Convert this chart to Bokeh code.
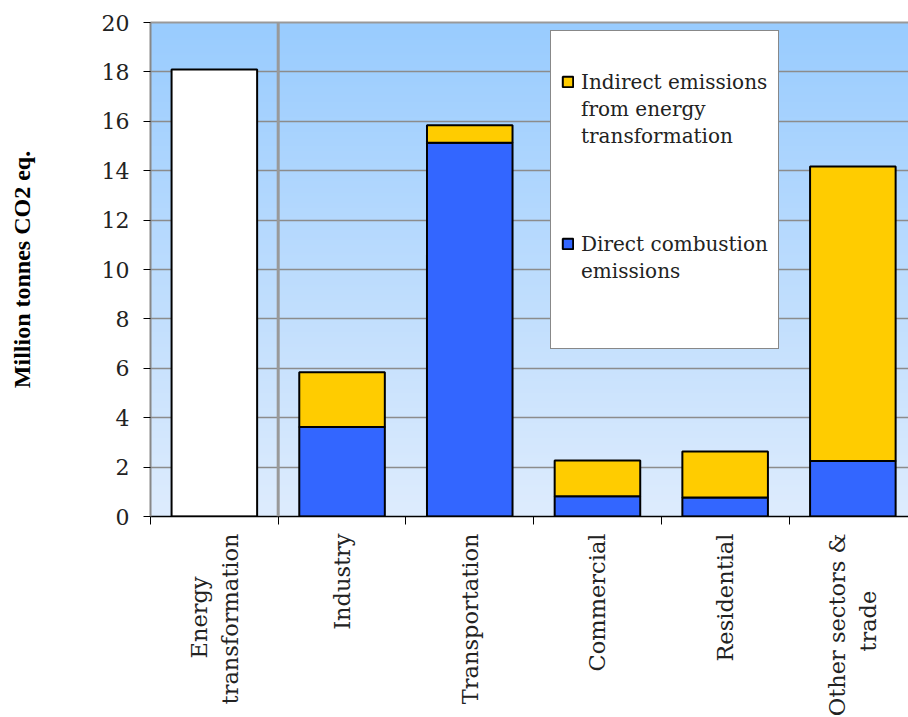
import numpy as np
from bokeh.plotting import figure
from bokeh.models import (Range1d, FixedTicker, LinearAxis, Legend, LegendItem, Span)
from bokeh.embed import file_html
from bokeh.resources import INLINE

# ---- data ----
NB = "\u00a0"
categories = ["Energy" + NB * 6 + "\ntransformation", "Industry", "Transportation", "Commercial",
              "Residential", "Other sectors &\ntrade" + NB * 8]
energy_transformation_total = [18.1]
end_use_sectors = ["Industry", "Transportation", "Commercial", "Residential"]
direct_combustion = [3.62, 15.13, 0.82, 0.77, 2.25]
sector_totals = [5.84, 15.84, 2.27, 2.63, 14.17]
y_ticks = [0, 2, 4, 6, 8, 10, 12, 14, 16, 18, 20]

FONT = "DejaVu Serif"
W, H = 908, 730
BL, BT = 150, 22
FRAME_H = 494
BB = H - BT - FRAME_H
CAT_PX = 127.7

p = figure(width=W, height=H, x_range=Range1d(0, (W - BL) / CAT_PX), y_range=Range1d(0, 20),
           output_backend="svg", toolbar_location=None,
           min_border_left=BL, min_border_top=BT, min_border_right=0, min_border_bottom=BB)
p.outline_line_color = None
p.background_fill_color = "white"

# gradient background
n = 200
img = np.empty((n, 1), dtype=np.uint32)
v = img.view(dtype=np.uint8).reshape((n, 1, 4))
t = np.linspace(0, 1, n)  # 0 bottom, 1 top
bot = np.array([222, 236, 253]); top = np.array([153, 204, 255])
for i in range(n):
    c = bot + (top - bot) * t[i]
    v[i, 0, 0], v[i, 0, 1], v[i, 0, 2], v[i, 0, 3] = int(c[0]), int(c[1]), int(c[2]), 255
bg = p.image_rgba(image=[img], x=0, y=0, dw=7, dh=20)
bg.level = "image"

# grid
p.xgrid.grid_line_color = None
p.ygrid.ticker = FixedTicker(ticks=y_ticks)
p.ygrid.grid_line_color = "#8c8c8c"
p.ygrid.grid_line_width = 1.5

# x positions from category index (first category is energy transformation,
# the remaining five are the end-use sectors)
cat_x = [i + 0.5 for i in range(len(categories))]
sector_x = cat_x[1:]

p.vbar(x=[cat_x[0]], top=energy_transformation_total, width=0.67,
       fill_color="white", line_color="black", line_width=2)
r_dir = p.vbar(x=sector_x, bottom=0, top=direct_combustion, width=0.67,
               fill_color="#3366FF", line_color="black", line_width=2)
r_ind = p.vbar(x=sector_x, bottom=direct_combustion, top=sector_totals, width=0.67,
               fill_color="#FFCC00", line_color="black", line_width=2)
blank = p.scatter(x=[], y=[], alpha=0)

# separator
p.add_layout(Span(location=1, dimension="height", line_color="#999999", line_width=3))

# y axis
yax = p.yaxis[0]
yax.ticker = FixedTicker(ticks=y_ticks)
yax.axis_line_color = "#888888"
yax.axis_line_width = 2
yax.major_tick_line_color = "black"
yax.major_tick_out = 7
yax.major_tick_in = 0
yax.minor_tick_line_color = None
yax.major_label_text_font = FONT
yax.major_label_text_font_size = "22px"
yax.major_label_text_color = "#222222"
yax.major_label_standoff = 14
yax.axis_label = "Million tonnes CO2 eq."
yax.axis_label_text_font = "Liberation Serif"
yax.axis_label_text_font_style = "bold"
yax.axis_label_text_font_size = "24px"
yax.axis_label_text_color = "black"
yax.axis_label_standoff = 64

# x axis: labels at category centres, tick marks at category boundaries
xax = p.xaxis[0]
xax.ticker = FixedTicker(ticks=cat_x, minor_ticks=list(range(len(categories) + 1)))
xax.major_label_overrides = {x: c for x, c in zip(cat_x, categories)}
xax.major_label_orientation = np.pi / 2
xax.major_tick_out = 0
xax.major_tick_in = 0
xax.minor_tick_out = 8
xax.minor_tick_in = 0
xax.minor_tick_line_color = "black"
xax.axis_line_color = "black"
xax.axis_line_width = 1.5
xax.major_label_text_font = FONT
xax.major_label_text_font_size = "22.5px"
xax.major_label_text_color = "#222222"
xax.major_label_standoff = 9

# top border
top_ax = LinearAxis(ticker=FixedTicker(ticks=[]), axis_line_color="#999999", axis_line_width=2,
                    major_tick_line_color=None, minor_tick_line_color=None)
p.add_layout(top_ax, "above")

legend_lines = [
    (" ", blank),
    ("Indirect emissions", r_ind), ("from energy", blank), ("transformation", blank),
    (" ", blank), (" ", blank), (" ", blank),
    ("Direct combustion", r_dir), ("emissions", blank),
    (" ", blank), (" ", blank),
]
legend = Legend(items=[LegendItem(label=l, renderers=[r]) for l, r in legend_lines],
                location=(400, 167), padding=10, spacing=0, glyph_width=13, glyph_height=13,
                label_height=27, label_standoff=7, border_line_color="#111111",
                border_line_width=1.5,
                background_fill_color="white", background_fill_alpha=1,
                label_text_font=FONT, label_text_font_size="20px",
                label_text_color="#222222")
p.add_layout(legend)

open("out.html", "w").write(file_html(p, INLINE))
